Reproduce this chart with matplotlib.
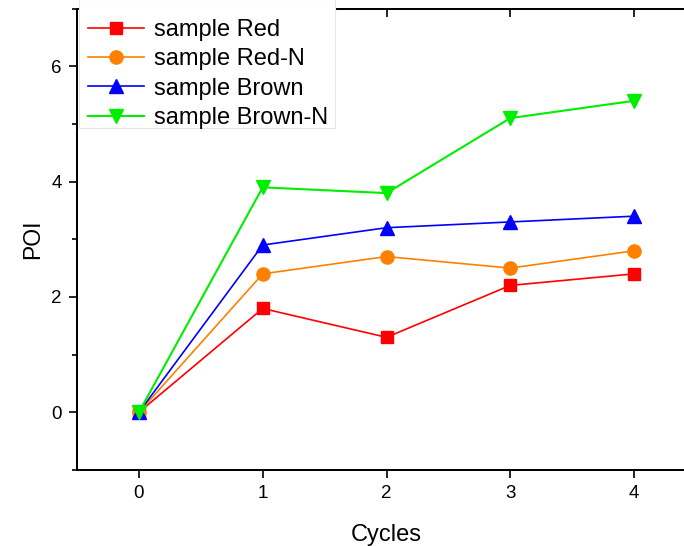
import matplotlib
matplotlib.use("Agg")
import matplotlib.pyplot as plt
import matplotlib.patches as mpatches
from matplotlib.ticker import MultipleLocator

plt.rcParams['font.family'] = ['Liberation Sans', 'DejaVu Sans']

cycles = [0, 1, 2, 3, 4]
red = [0, 1.8, 1.3, 2.2, 2.4]
red_n = [0, 2.4, 2.7, 2.5, 2.8]
brown = [0, 2.9, 3.2, 3.3, 3.4]
brown_n = [0, 3.9, 3.8, 5.1, 5.4]
labels = ["sample Red", "sample Red-N", "sample Brown", "sample Brown-N"]

W, H = 684, 546
fig = plt.figure(figsize=(W / 100, H / 100), dpi=100)
left, right, top, bottom = 77, 696, 8.5, 470
ax = fig.add_axes([left / W, (H - bottom) / H, (right - left) / W, (bottom - top) / H])

ax.plot(cycles, red, color='#FF0000', marker='s', markersize=8.5, lw=1.2, label=labels[0])
ax.plot(cycles, red_n, color='#FF8000', marker='o', markersize=9.5, lw=1.2, label=labels[1])
ax.plot(cycles, brown, color='#0000FF', marker='^', markersize=10, lw=1.2, label=labels[2])
ax.plot(cycles, brown_n, color='#00EE00', marker='v', markersize=10, lw=1.5, label=labels[3])

ax.set_xlim(-0.5, 4.5)
ax.set_ylim(-1, 7)
ax.set_xticks(cycles)
ax.yaxis.set_major_locator(MultipleLocator(2))
ax.yaxis.set_minor_locator(MultipleLocator(1))
ax.tick_params(axis='both', which='major', labelsize=13.5, length=6, width=1.2, direction='out', pad=5)
ax.tick_params(axis='y', which='minor', length=3.5, width=1.2, direction='out')
for s in ax.spines.values():
    s.set_linewidth(1.3)

# top spine ticks pointing inward (twin drawn underneath the main axes)
ax2 = ax.twiny()
ax2.set_xlim(-0.5, 4.5)
ax2.set_xticks(cycles)
ax2.tick_params(axis='x', direction='in', length=6, width=1.2, labeltop=False)
for s in ax2.spines.values():
    s.set_linewidth(1.3)
ax2.set_zorder(0)
ax.set_zorder(1)
ax.patch.set_visible(False)

ax.set_xlabel("Cycles", fontsize=17, labelpad=16)
ax.set_ylabel("POI", fontsize=16.5, labelpad=5)

# white legend panel covering the upper-left corner of the frame
panel = mpatches.Rectangle((0.0025, 0.741), 0.4145, 0.28, transform=ax.transAxes,
                           facecolor='white', edgecolor='#E6E6E6', lw=0.8,
                           clip_on=False, zorder=4)
ax.add_patch(panel)

leg = ax.legend(loc='upper left', fontsize=17, frameon=False,
                borderaxespad=0.1, handlelength=2.4, labelspacing=0.31,
                borderpad=0.35, handletextpad=0.4)
leg.set_zorder(6)

fig.savefig("out.png", dpi=100)
